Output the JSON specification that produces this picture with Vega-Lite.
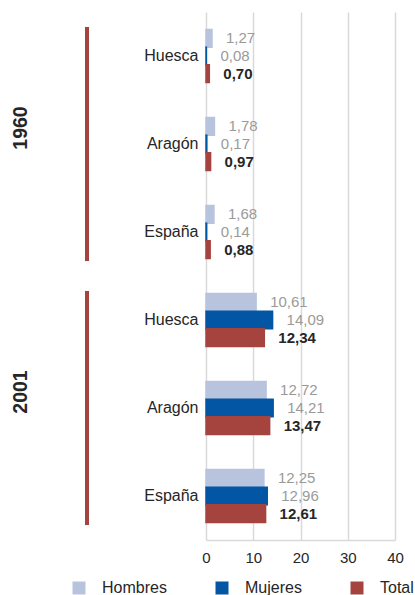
{
  "$schema": "https://vega.github.io/schema/vega-lite/v6.json",
  "padding": {"left": 10, "top": 12, "right": 0, "bottom": 0},
  "config": {
    "font": "Liberation Sans",
    "view": {"stroke": null},
    "concat": {"spacing": 36},
    "locale": {"number": {"decimal": ",", "thousands": ".", "grouping": [3], "currency": ["", " €"]}}
  },
  "datasets": {
    "tasas": [
      {"year": "1960", "region": "Huesca", "key": "1960|Huesca", "serie": "Hombres", "valor": 1.27},
      {"year": "1960", "region": "Huesca", "key": "1960|Huesca", "serie": "Mujeres", "valor": 0.08},
      {"year": "1960", "region": "Huesca", "key": "1960|Huesca", "serie": "Total", "valor": 0.70},
      {"year": "1960", "region": "Aragón", "key": "1960|Aragón", "serie": "Hombres", "valor": 1.78},
      {"year": "1960", "region": "Aragón", "key": "1960|Aragón", "serie": "Mujeres", "valor": 0.17},
      {"year": "1960", "region": "Aragón", "key": "1960|Aragón", "serie": "Total", "valor": 0.97},
      {"year": "1960", "region": "España", "key": "1960|España", "serie": "Hombres", "valor": 1.68},
      {"year": "1960", "region": "España", "key": "1960|España", "serie": "Mujeres", "valor": 0.14},
      {"year": "1960", "region": "España", "key": "1960|España", "serie": "Total", "valor": 0.88},
      {"year": "2001", "region": "Huesca", "key": "2001|Huesca", "serie": "Hombres", "valor": 10.61},
      {"year": "2001", "region": "Huesca", "key": "2001|Huesca", "serie": "Mujeres", "valor": 14.09},
      {"year": "2001", "region": "Huesca", "key": "2001|Huesca", "serie": "Total", "valor": 12.34},
      {"year": "2001", "region": "Aragón", "key": "2001|Aragón", "serie": "Hombres", "valor": 12.72},
      {"year": "2001", "region": "Aragón", "key": "2001|Aragón", "serie": "Mujeres", "valor": 14.21},
      {"year": "2001", "region": "Aragón", "key": "2001|Aragón", "serie": "Total", "valor": 13.47},
      {"year": "2001", "region": "España", "key": "2001|España", "serie": "Hombres", "valor": 12.25},
      {"year": "2001", "region": "España", "key": "2001|España", "serie": "Mujeres", "valor": 12.96},
      {"year": "2001", "region": "España", "key": "2001|España", "serie": "Total", "valor": 12.61}
    ],
    "grupos": [
      {"year": "1960", "inicio": "1960|Huesca", "fin": "1960|España", "centro": "1960|Aragón"},
      {"year": "2001", "inicio": "2001|Huesca", "fin": "2001|España", "centro": "2001|Aragón"}
    ]
  },
  "resolve": {"scale": {"y": "shared"}},
  "hconcat": [
    {
      "width": 40,
      "height": 528,
      "data": {"name": "grupos"},
      "layer": [
        {
          "mark": {"type": "rule", "color": "#a5443f", "strokeWidth": 4},
          "encoding": {
            "y": {"field": "inicio", "type": "nominal", "bandPosition": -0.05, "axis": null,
                  "scale": {"domain": ["1960|Huesca", "1960|Aragón", "1960|España", "2001|Huesca", "2001|Aragón", "2001|España"], "paddingInner": 0.4, "paddingOuter": 0.2}},
            "y2": {"field": "fin", "bandPosition": 1.05}
          }
        },
        {
          "mark": {"type": "text", "angle": 270, "fontSize": 19.5, "fontWeight": "bold", "color": "#262626", "align": "center", "baseline": "middle", "dx": 16, "dy": -66},
          "encoding": {
            "y": {"field": "centro", "type": "nominal", "axis": null},
            "text": {"field": "year"}
          }
        }
      ]
    },
    {
      "width": 189,
      "height": 528,
      "data": {"name": "tasas"},
      "encoding": {
        "y": {"field": "key", "type": "nominal",
              "scale": {"domain": ["1960|Huesca", "1960|Aragón", "1960|España", "2001|Huesca", "2001|Aragón", "2001|España"], "paddingInner": 0.4, "paddingOuter": 0.2},
              "axis": {"title": null, "labelExpr": "split(datum.label, '|')[1]", "ticks": false, "domain": false, "labelPadding": 8, "labelFontSize": 16, "labelColor": "#262626"}},
        "yOffset": {"field": "serie", "type": "nominal", "scale": {"domain": ["Hombres", "Mujeres", "Total"], "paddingInner": 0, "paddingOuter": 0}},
        "x": {"field": "valor", "type": "quantitative", "scale": {"domain": [0, 40], "nice": false},
              "axis": {"title": null, "values": [0, 10, 20, 30, 40], "format": "d", "ticks": false, "labelFlush": false, "labelFontSize": 15, "labelColor": "#262626", "labelPadding": 10, "gridColor": "#d9d9d9", "gridWidth": 1.5, "domainColor": "#d9d9d9", "domainWidth": 1.5}}
      },
      "layer": [
        {
          "mark": {"type": "bar", "strokeWidth": 1.5},
          "encoding": {
            "color": {"field": "serie", "type": "nominal",
                      "scale": {"domain": ["Hombres", "Mujeres", "Total"], "range": ["#b8c4dd", "#0356a3", "#a5443f"]},
                      "legend": {"title": null, "orient": "bottom", "offset": 11, "padding": 4, "direction": "horizontal", "symbolType": "square", "symbolSize": 169, "symbolStrokeWidth": 0, "labelFontSize": 16, "labelColor": "#262626", "columnPadding": 47, "labelOffset": 15}},
            "stroke": {"field": "serie", "type": "nominal",
                       "scale": {"domain": ["Hombres", "Mujeres", "Total"], "range": ["#b8c4dd", "#0356a3", "#a5443f"]},
                       "legend": null}
          }
        },
        {
          "transform": [{"filter": "datum.serie !== 'Total'"}],
          "mark": {"type": "text", "align": "left", "baseline": "middle", "dx": 14, "fontSize": 15, "color": "#9a9a9a"},
          "encoding": {"text": {"field": "valor", "type": "quantitative", "format": ".2f"}}
        },
        {
          "transform": [{"filter": "datum.serie === 'Total'"}],
          "mark": {"type": "text", "align": "left", "baseline": "middle", "dx": 14, "fontSize": 15, "fontWeight": "bold", "color": "#262626"},
          "encoding": {"text": {"field": "valor", "type": "quantitative", "format": ".2f"}}
        }
      ]
    }
  ]
}
